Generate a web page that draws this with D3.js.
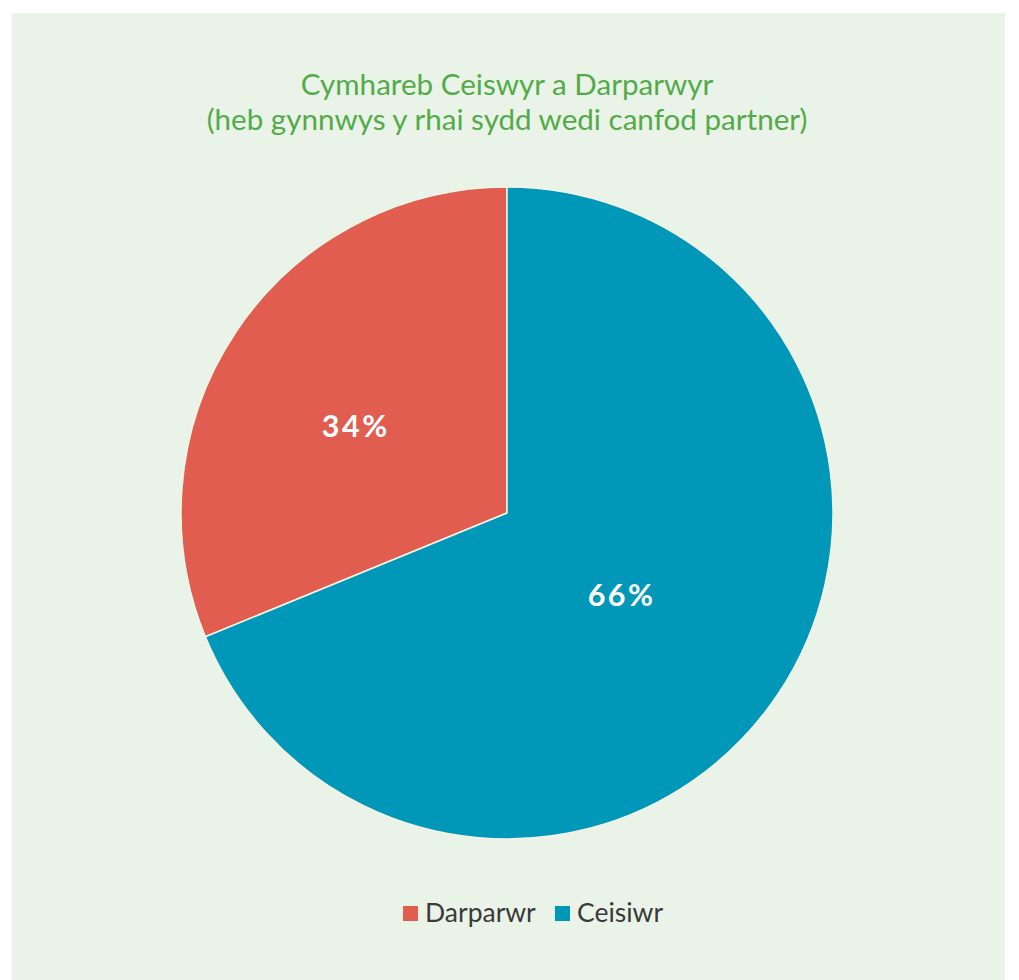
<!DOCTYPE html>
<html>
<head>
<meta charset="utf-8">
<script src="https://cdn.jsdelivr.net/npm/d3@7"></script>
<style>
  body { margin: 0; background: #fff; }
  #chart { width: 1019px; height: 980px; }
</style>
</head>
<body>
<div id="chart"></div>
<script>
// Data
const categories = ["Darparwr", "Ceisiwr"];
const sliceShares = [31.2, 68.8];       // slice size as drawn
const sliceLabels = ["34%", "66%"];     // labels as printed
const colors = ["#E05D50", "#0097B8"];
const titleLines = ["Cymhareb Ceiswyr a Darparwyr", "(heb gynnwys y rhai sydd wedi canfod partner)"];

const W = 1019, H = 980;
const cx = 507, cy = 513, radius = 326;

const svg = d3.select("#chart")
  .append("svg")
  .attr("width", W)
  .attr("height", H);

// panel background
svg.append("rect")
  .attr("x", 12).attr("y", 13)
  .attr("width", 993).attr("height", H - 13)
  .attr("fill", "#EAF3E8");

// title
svg.append("g")
  .selectAll("text")
  .data(titleLines)
  .join("text")
  .attr("x", cx)
  .attr("y", (d, i) => 95 + i * 35)
  .attr("text-anchor", "middle")
  .attr("font-family", "Lato, 'Open Sans', sans-serif")
  .attr("font-size", 29.6)
  .attr("fill", "#52AB48")
  .text(d => d);

// pie: first slice ends at 12 o'clock, second starts there going clockwise
const pieData = categories.map((c, i) => ({ name: c, value: sliceShares[i], label: sliceLabels[i], color: colors[i] }));
const pie = d3.pie()
  .value(d => d.value)
  .sort(null)
  .startAngle(-2 * Math.PI * sliceShares[0] / 100)
  .endAngle(2 * Math.PI - 2 * Math.PI * sliceShares[0] / 100);

const arc = d3.arc().innerRadius(0).outerRadius(radius);
const arcs = pie(pieData);

const g = svg.append("g").attr("transform", `translate(${cx},${cy})`);

g.selectAll("path")
  .data(arcs)
  .join("path")
  .attr("d", arc)
  .attr("fill", d => d.data.color)
  .attr("stroke", "#F3F3E6")
  .attr("stroke-width", 1.5)
  .attr("stroke-linejoin", "round");

// label placement (angle shift in radians, radius as fraction of pie radius)
const labelShift = [-0.07, 0.03];
const labelRadius = [0.535, 0.432];
g.selectAll("text.lbl")
  .data(arcs)
  .join("text")
  .attr("class", "lbl")
  .attr("transform", (d, i) => {
    const a = (d.startAngle + d.endAngle) / 2 + labelShift[i];
    return `translate(${d3.pointRadial(a, radius * labelRadius[i])})`;
  })
  .attr("text-anchor", "middle")
  .attr("dy", "0.36em")
  .attr("font-family", "Lato, 'Open Sans', sans-serif")
  .attr("font-weight", "bold")
  .attr("font-size", 30.5)
  .attr("letter-spacing", 2.5)
  .attr("fill", "#fff")
  .text(d => d.data.label);

// legend
const legend = svg.append("g").attr("transform", "translate(403, 906)");
const items = legend.selectAll("g")
  .data(pieData)
  .join("g")
  .attr("transform", (d, i) => `translate(${i * 152},0)`);
items.append("rect")
  .attr("width", 15).attr("height", 15)
  .attr("fill", d => d.color);
items.append("text")
  .attr("x", 22)
  .attr("y", 16)
  .attr("font-family", "Lato, 'Open Sans', sans-serif")
  .attr("font-size", 26.5)
  .attr("fill", "#3A3A3A")
  .text(d => d.name);
</script>
</body>
</html>
